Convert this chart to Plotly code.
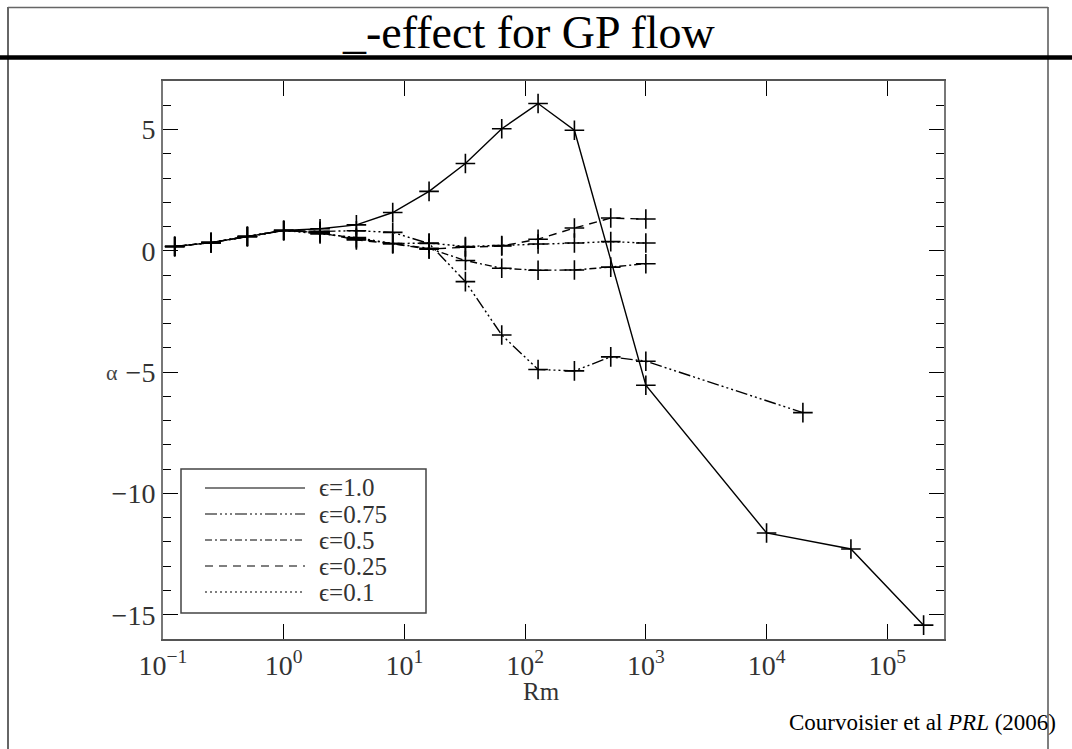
import plotly.graph_objects as go

# ---------------- data ----------------
rm_e100 = [0.125, 0.25, 0.5, 1, 2, 4, 8, 16, 32, 64, 128, 256, 1000, 1e4, 5e4, 2e5]
alpha_e100 = [0.18, 0.34, 0.59, 0.84, 0.91, 1.07, 1.58, 2.45, 3.6, 5.03, 6.07, 4.97,
              -5.54, -11.63, -12.29, -15.43]

rm_e075 = [0.125, 0.25, 0.5, 1, 2, 4, 8, 16, 32, 64, 128, 256, 512, 1000, 2e4]
alpha_e075 = [0.18, 0.34, 0.59, 0.84, 0.8, 0.83, 0.76, 0.3, -1.27, -3.47, -4.89, -4.95,
              -4.37, -4.55, -6.67]

rm_low = [0.125, 0.25, 0.5, 1, 2, 4, 8, 16, 32, 64, 128, 256, 512, 1000]
alpha_e050 = [0.18, 0.34, 0.59, 0.84, 0.75, 0.5, 0.3, 0.1, -0.4, -0.72, -0.8, -0.79, -0.67, -0.53]
alpha_e025 = [0.18, 0.34, 0.59, 0.84, 0.75, 0.45, 0.29, 0.07, 0.15, 0.2, 0.48, 0.94, 1.35, 1.31]
alpha_e010 = [0.18, 0.34, 0.59, 0.84, 0.7, 0.55, 0.3, 0.32, 0.18, 0.22, 0.28, 0.32, 0.38, 0.32]

legend_labels = ["ϵ=1.0", "ϵ=0.75", "ϵ=0.5", "ϵ=0.25", "ϵ=0.1"]
x_tickvals = [0.1, 1, 10, 100, 1000, 1e4, 1e5]
x_ticktext = ["10<sup>−1</sup>", "10<sup>0</sup>", "10<sup>1</sup>", "10<sup>2</sup>",
              "10<sup>3</sup>", "10<sup>4</sup>", "10<sup>5</sup>"]
y_tickvals = [-15, -10, -5, 0, 5]
y_ticktext = ["−15", "−10", "−5", "0", "5"]

# ---------------- styling ----------------
W, H = 1072, 749
L, R, T, B = 163, 944, 81, 639
SERIF = "Times New Roman, Liberation Serif, serif"
dashes = ["solid",
          "12px,3px,2px,3px,2px,3px,2px,3px",
          "7px,3px,2px,3px",
          "8px,6px",
          "2px,3px"]

series = [(rm_e100, alpha_e100), (rm_e075, alpha_e075), (rm_low, alpha_e050),
          (rm_low, alpha_e025), (rm_low, alpha_e010)]

fig = go.Figure()
for (xs, ys), d, name in zip(series, dashes, legend_labels):
    fig.add_trace(go.Scatter(
        x=xs, y=ys, mode="lines+markers", name=name, showlegend=False,
        line=dict(color="black", width=1.4, dash=d),
        marker=dict(symbol="cross-thin", size=14, line=dict(color="black", width=1.6)),
    ))


def px(xp):
    return (xp - L) / (R - L)


def py(yp):
    return (B - yp) / (B - T)


shapes = []
ann = []
# page frame
shapes.append(dict(type="line", xref="paper", yref="paper", x0=px(8), x1=px(8), y0=py(7), y1=py(760),
                   line=dict(color="#333", width=1.5)))
shapes.append(dict(type="line", xref="paper", yref="paper", x0=px(1048), x1=px(1048), y0=py(7), y1=py(760),
                   line=dict(color="#555", width=1.5)))
shapes.append(dict(type="line", xref="paper", yref="paper", x0=px(8), x1=px(1048), y0=py(7.5), y1=py(7.5),
                   line=dict(color="#666", width=1.5)))
shapes.append(dict(type="line", xref="paper", yref="paper", x0=px(-5), x1=px(1080), y0=py(57.5), y1=py(57.5),
                   line=dict(color="black", width=4.5)))

# legend box
shapes.append(dict(type="rect", xref="paper", yref="paper", x0=px(181), x1=px(426), y0=py(613), y1=py(469),
                   line=dict(color="#444", width=1.5), fillcolor="white", layer="above"))
rows = [488, 514, 540, 566, 592]
for yr, d, name in zip(rows, dashes, legend_labels):
    shapes.append(dict(type="line", xref="paper", yref="paper", x0=px(205), x1=px(305), y0=py(yr), y1=py(yr),
                       line=dict(color="black", width=1.2, dash=d), layer="above"))
    ann.append(dict(x=px(317), y=py(yr), xref="paper", yref="paper", text=name, showarrow=False,
                    xanchor="left", yanchor="middle",
                    font=dict(family=SERIF, size=25, color="#333")))

# title
ann.append(dict(x=px(528), y=py(32), xref="paper", yref="paper", text="_-effect for GP flow",
                showarrow=False, xanchor="center", yanchor="middle",
                font=dict(family=SERIF, size=46, color="black")))
# axis labels
ann.append(dict(x=px(541), y=py(691), xref="paper", yref="paper", text="Rm", showarrow=False,
                xanchor="center", yanchor="middle",
                font=dict(family=SERIF, size=25, color="#333")))
ann.append(dict(x=px(112), y=py(372), xref="paper", yref="paper", text="α", showarrow=False,
                xanchor="center", yanchor="middle",
                font=dict(family=SERIF, size=22, color="#444")))
# citation
ann.append(dict(x=px(1058), y=py(722), xref="paper", yref="paper",
                text="Courvoisier et al <i>PRL</i> (2006)", showarrow=False,
                xanchor="right", yanchor="middle",
                font=dict(family=SERIF, size=23, color="black")))

fig.update_layout(
    width=W, height=H,
    margin=dict(l=L, r=W - R, t=T, b=H - B),
    paper_bgcolor="white", plot_bgcolor="white",
    shapes=shapes, annotations=ann,
    showlegend=False,
)
fig.update_xaxes(
    type="log", range=[-1, 5.47],
    tickvals=x_tickvals, ticktext=x_ticktext,
    ticks="inside", ticklen=15, tickwidth=1.2, tickcolor="black",
    showline=True, linecolor="#555", linewidth=2, mirror="ticks",
    showgrid=False, zeroline=False,
    tickfont=dict(family=SERIF, size=28, color="#333"),
)
fig.update_yaxes(
    range=[-16, 7],
    tickvals=y_tickvals, ticktext=y_ticktext,
    ticks="inside", ticklen=15, tickwidth=1.2, tickcolor="black",
    minor=dict(dtick=1, ticks="inside", ticklen=8, tickcolor="black", tickwidth=1.2),
    showline=True, linecolor="#777", linewidth=2, mirror="ticks",
    showgrid=False, zeroline=False,
    tickfont=dict(family=SERIF, size=28, color="#333"),
)

fig.write_html("out.html")
